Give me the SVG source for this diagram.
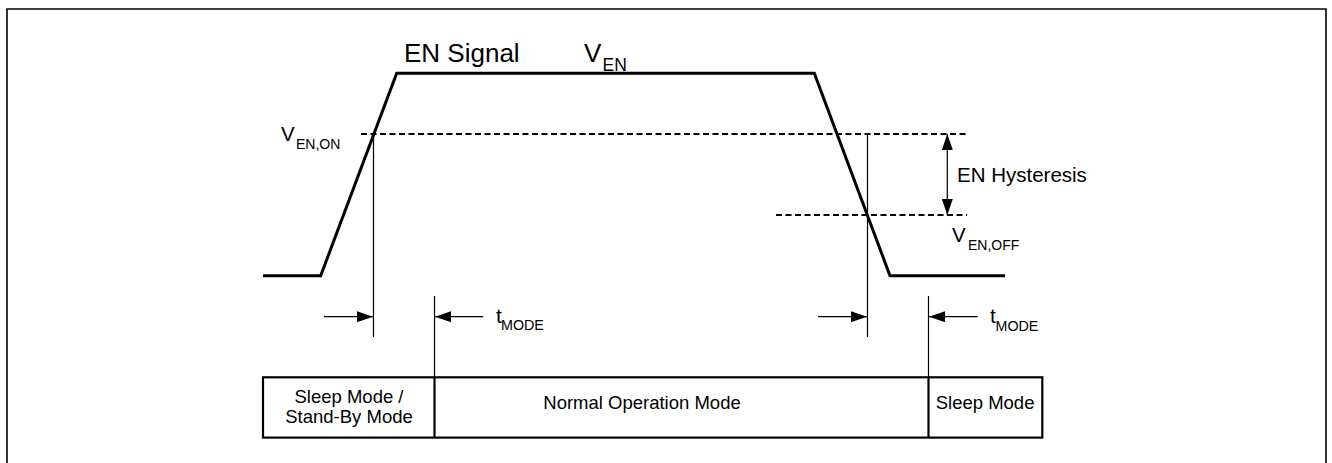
<svg xmlns="http://www.w3.org/2000/svg" width="1332" height="463" viewBox="0 0 1332 463">
<style>
text{font-family:"Liberation Sans",Arial,sans-serif;fill:#000}
.sig{fill:none;stroke:#000;stroke-width:3;stroke-linejoin:miter}
.dash{fill:none;stroke:#000;stroke-width:2;stroke-dasharray:6 3.5}
.thin{fill:none;stroke:#000;stroke-width:1.2}
.box{fill:none;stroke:#000;stroke-width:2.2}
.arr{fill:none;stroke:#000;stroke-width:1.2;marker-end:url(#ah)}
.frame{fill:none;stroke:#000;stroke-width:1.6}
</style>
<defs>
<marker id="ah" markerWidth="16" markerHeight="11" refX="16" refY="5.5" orient="auto-start-reverse" markerUnits="userSpaceOnUse">
<path d="M0,0 L16,5.5 L0,11 z" fill="#000"/>
</marker>
</defs>
<rect width="1332" height="463" fill="#fff"/>
<path class="frame" d="M7,463 V9 H1326 V463"/>

<g id="signal">
<path class="sig" d="M263,275.7 H320.7 L396.7,73.3 H814.3 L890,275.7 H1005"/>
<text x="404" y="62" font-size="26">EN Signal</text>
<text x="584" y="62" font-size="26">V</text>
<text x="602.5" y="70.7" font-size="17.5">EN</text>
</g>

<g id="threshold-on">
<line class="dash" x1="361" y1="134" x2="967" y2="134"/>
<text x="281" y="141" font-size="20.5">V</text>
<text x="296" y="149" font-size="14">EN,ON</text>
</g>

<g id="threshold-off">
<line class="dash" x1="776" y1="215" x2="967" y2="215"/>
<text x="952" y="242" font-size="20.5">V</text>
<text x="968" y="250" font-size="14">EN,OFF</text>
</g>

<g id="hysteresis">
<text x="957" y="182" font-size="20.5">EN Hysteresis</text>
</g>

<g id="tmode-1">
<text x="496" y="323.3" font-size="21">t</text>
<text x="501" y="330" font-size="14.3">MODE</text>
</g>
<g id="tmode-2">
<text x="990" y="323.3" font-size="21">t</text>
<text x="995.5" y="330.5" font-size="14.3">MODE</text>
</g>

<g id="mode-bar">
<rect class="box" x="263" y="377.3" width="779.3" height="60.3"/>
<line class="box" x1="434.5" y1="377.3" x2="434.5" y2="437.6"/>
<line class="box" x1="928.5" y1="377.3" x2="928.5" y2="437.6"/>
</g>
<g id="sleep-standby">
<text x="349" y="402.7" font-size="18.5" text-anchor="middle">Sleep Mode /</text>
<text x="349" y="422.7" font-size="18.5" text-anchor="middle">Stand-By Mode</text>
</g>
<g id="normal">
<text x="543.3" y="408.7" font-size="18.5">Normal Operation Mode</text>
</g>
<g id="sleep">
<text x="935.7" y="409.3" font-size="18.5">Sleep Mode</text>
</g>

<g id="connectors">
<line class="thin" x1="373.5" y1="134" x2="373.5" y2="337"/>
<line class="thin" x1="434.5" y1="296" x2="434.5" y2="377"/>
<line class="thin" x1="867.5" y1="134" x2="867.5" y2="337"/>
<line class="thin" x1="928.5" y1="296" x2="928.5" y2="377"/>
<line class="arr" x1="324" y1="316.7" x2="373" y2="316.7"/>
<line class="arr" x1="483.3" y1="316.7" x2="435" y2="316.7"/>
<line class="arr" x1="818" y1="316.7" x2="867" y2="316.7"/>
<line class="arr" x1="977.7" y1="316.7" x2="929" y2="316.7"/>
<line class="thin" x1="947.3" y1="134" x2="947.3" y2="215" marker-start="url(#ah)" marker-end="url(#ah)"/>
</g>
</svg>
